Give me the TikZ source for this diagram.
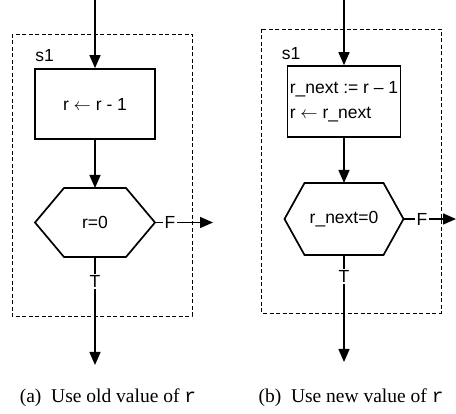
\documentclass[tikz,border=0pt]{standalone}
\usepackage{fontspec}
\setmainfont{Liberation Serif}
\setsansfont{Liberation Sans}
\setmonofont{Liberation Mono}
\usepackage{tikz}
\usetikzlibrary{arrows.meta, positioning, calc}
\tikzset{
  stepbox/.style={rectangle, draw, line width=1.7pt, align=left,
    inner sep=2pt, font=\sffamily\fontsize{17.5}{25}\selectfont},
  hexnode/.style={rectangle, draw=none, outer sep=0pt, align=center,
    font=\sffamily\fontsize{17.5}{20}\selectfont},
  flow/.style={-{Triangle[length=13pt,width=11pt]}, line width=1.5pt},
  statebox/.style={draw, dash pattern=on 4pt off 2.5pt, line width=0.6pt},
  sflabel/.style={font=\sffamily\fontsize{17.5}{20}\selectfont, inner sep=1pt},
  tflabel/.style={fill=white, inner sep=1.5pt,
    font=\sffamily\fontsize{17.5}{20}\selectfont},
  caption/.style={font=\fontsize{19.5}{22}\selectfont},
}
\newcommand{\hexoutline}[2]{%
  \draw[line width=1.7pt, line join=miter]
    (#1.west) -- ([xshift=#2]#1.north west) --
    ([xshift=-#2]#1.north east) -- (#1.east) --
    ([xshift=-#2]#1.south east) -- ([xshift=#2]#1.south west) -- cycle;}

\begin{document}
\begin{tikzpicture}[x=1pt, y=-1pt]
  \useasboundingbox (0,0) rectangle (456,414);
  % (a) old value of r
  \draw[statebox] (12,34) rectangle (192,316);
  \node[sflabel] (sA) at (44.5,56) {s1};
  \coordinate (inA) at (95,0);
  \node[stepbox, align=center, minimum width=120pt, minimum height=70pt]
    (boxA) at (95,104) {r $\leftarrow$ r - 1};
  \node[hexnode, minimum width=120pt, minimum height=69pt]
    (hexA) at (95,222.5) {r=0};
  \hexoutline{hexA}{29pt}
  \coordinate (outA) at (213,222.5);
  \coordinate (endA) at (95,365);
  \draw[flow] (inA) -- (boxA);
  \draw[flow] (boxA) -- (hexA);
  \draw[flow] (hexA.east) -- node[tflabel, pos=0.26] {F} (outA);
  \draw[flow] (hexA.south) -- node[tflabel, pos=0.23] {T} (endA);
  \node[caption] (capA) at (108,398)
    {(a)\hspace{0.5em}Use old value of \texttt{r}};
  % (b) new value of r
  \draw[statebox] (261,29) rectangle (441,313);
  \node[sflabel] (sB) at (291,54) {s1};
  \coordinate (inB) at (344,0);
  \node[stepbox, minimum width=113pt, minimum height=71pt]
    (boxB) at (344,101.5) {r\_next := r -- 1\\ r $\leftarrow$ r\_next};
  \node[hexnode, minimum width=119pt, minimum height=72pt]
    (hexB) at (344,219) {r\_next=0};
  \hexoutline{hexB}{20pt}
  \coordinate (outB) at (456,219);
  \coordinate (endB) at (344,362);
  \draw[flow] (inB) -- (boxB);
  \draw[flow] (boxB) -- (hexB);
  \draw[flow] (hexB.east) -- node[tflabel, pos=0.35] {F} (outB);
  \draw[flow] (hexB.south) -- node[tflabel, pos=0.2] {T} (endB);
  \node[caption] (capB) at (351,398)
    {(b)\hspace{0.5em}Use new value of \texttt{r}};
\end{tikzpicture}
\end{document}
